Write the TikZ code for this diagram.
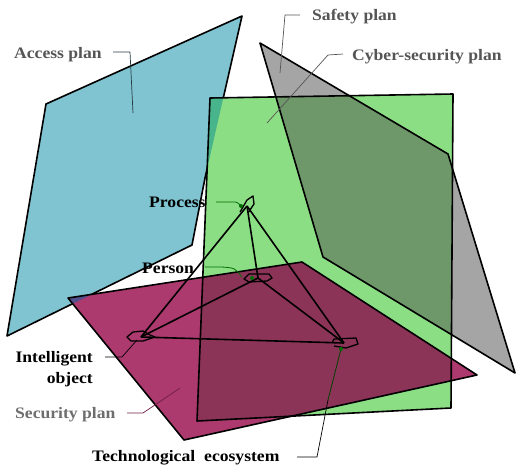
\documentclass[tikz,border=0pt]{standalone}
\usepackage{fontspec}
\newfontfamily\labfont[FakeStretch=1.1]{Liberation Serif}
\definecolor{cblue}{RGB}{128,196,210}
\definecolor{cgreen}{RGB}{140,222,132}
\definecolor{cgrey}{RGB}{165,165,165}
\definecolor{cdkgreen}{RGB}{110,152,106}
\definecolor{cteal}{RGB}{72,180,140}
\definecolor{cpink}{RGB}{172,58,110}
\definecolor{cdkpink}{RGB}{140,52,88}
\definecolor{cpurple}{RGB}{80,80,140}
\definecolor{lblgrey}{RGB}{85,85,85}
\definecolor{leadgreen}{RGB}{0,110,0}
\definecolor{leadpink}{RGB}{110,30,70}
\begin{document}
\begin{tikzpicture}[x=1pt,y=-1pt,line join=round,
  outl/.style={draw=black,line width=1.6pt},
  edgeln/.style={draw=black,line width=1.6pt},
  blob/.style={draw=black,line width=1.3pt},
  plabel/.style={font=\labfont\bfseries\fontsize{16}{18}\selectfont,text=lblgrey,inner sep=0pt},
  clabel/.style={font=\labfont\bfseries\fontsize{16}{18}\selectfont,text=black,inner sep=0pt},
  leader/.style={draw=lblgrey,line width=0.7pt},
  gleader/.style={draw=leadgreen,line width=0.8pt},
  gdot/.style={fill=leadgreen,circle,inner sep=0pt,minimum size=4pt}]
\useasboundingbox (0,0) rectangle (516,466);
% plane corners
\coordinate (B1) at (46,104); \coordinate (B2) at (242,16); \coordinate (B3) at (205,178);
\coordinate (B4) at (192,245); \coordinate (B5) at (7,336);
\coordinate (G1) at (260,43); \coordinate (G2) at (448,154); \coordinate (G3) at (515,373); \coordinate (G4) at (323,257);
\coordinate (C1) at (210,98); \coordinate (C2) at (453,94); \coordinate (C3) at (451,408); \coordinate (C4) at (197,421);
\coordinate (P1) at (68,298); \coordinate (P2) at (302,262); \coordinate (P3) at (477,375); \coordinate (P4) at (184,440);
% fills
\filldraw[fill=cblue,outl] (B1)--(B2)--(B3)--(B4)--(B5)--cycle;
\fill[cgrey] (G1)--(G2)--(G3)--(G4)--cycle;
\fill[cgreen] (C1)--(C2)--(C3)--(C4)--cycle;
\begin{scope}
  \clip (C1)--(C2)--(C3)--(C4)--cycle;
  \fill[cteal] (B1)--(B2)--(B3)--(B4)--(B5)--cycle;
  \fill[cdkgreen] (G1)--(G2)--(G3)--(G4)--cycle;
\end{scope}
\fill[cpink] (P1)--(P2)--(P3)--(P4)--cycle;
\begin{scope}
  \clip (P1)--(P2)--(P3)--(P4)--cycle;
  \fill[cdkpink] (C1)--(C2)--(C3)--(C4)--cycle;
  \fill[cpurple] (B1)--(B2)--(B3)--(B4)--(B5)--cycle;
\end{scope}
% outlines
\draw[outl] (G1)--(G2)--(G3)--(G4)--cycle;
\draw[outl] (C1)--(C2)--(C3)--(C4)--cycle;
\draw[outl] (P1)--(P2)--(P3)--(P4)--cycle;
% inner graph
\coordinate (proc) at (247,206);
\coordinate (pers) at (258,278);
\coordinate (intel) at (141,337);
\coordinate (tech) at (344,343);
\draw[edgeln] (proc)--(intel);
\draw[edgeln] (proc)--(pers);
\draw[edgeln] (proc)--(tech);
\draw[edgeln] (pers)--(intel);
\draw[edgeln] (pers)--(tech);
\draw[edgeln] (intel)--(tech);
\draw[blob] (240,212)--(243,207)--(247,200)--(253,196)--(254,204)--(250,210)--(248,213);
\draw[blob] (244,279)--(249,274)--(269,274)--(272,278)--(267,281)--(249,282)--cycle;
\draw[blob] (127,337)--(133,332)--(143,331)--(150,335)--(155,337)--(143,341)--(131,341)--cycle;
\draw[blob] (332,343)--(334,339)--(356,338)--(358,344)--(346,348)--(334,346);
% labels
\node[plabel,anchor=base west] (lacc) at (14,58) {Access plan};
\node[plabel,anchor=base west] (lsaf) at (312,20) {Safety plan};
\node[plabel,anchor=base west] (lcyb) at (352,60) {Cyber-security plan};
\node[clabel,anchor=base west] (lproc) at (149,207) {Process};
\node[clabel,anchor=base west] (lpers) at (142,273) {Person};
\node[clabel,anchor=base east] (lint1) at (93,362) {Intelligent};
\node[clabel,anchor=base east] (lint2) at (93,383) {object};
\node[plabel,anchor=base west,text=lblgrey!85] (lsec) at (15,418) {Security plan};
\node[clabel,anchor=base west] (ltech) at (92,461) {Technological\hspace{9pt}ecosystem};
% leaders
\draw[leader,draw=black!70!cblue] (113,52)--(130,52)--(133,113);
\draw[leader] (300,15)--(285,15)--(280,73);
\draw[leader] (343,54)--(328,55)--(267,123);
\draw[gleader] (216,202)--(233,202) .. controls (237,202) .. (241,206);
\node[gdot] (dproc) at (241,206) {};
\draw[gleader] (205,267)--(222,267) .. controls (235,268) .. (242,277);
\node[gdot] (dpers) at (252,278) {};
\draw[leader,draw=black] (105,357)--(122,357)--(137,340);
\draw[leader,draw=leadpink] (127,413)--(143,413)--(180,388);
\draw[leader,draw=black] (297,457)--(317,457)--(328,400);
\draw[gleader,draw=black!40!leadgreen] (328,400)--(341,349);
\node[gdot] (dtech) at (341,349) {};
\end{tikzpicture}
\end{document}
